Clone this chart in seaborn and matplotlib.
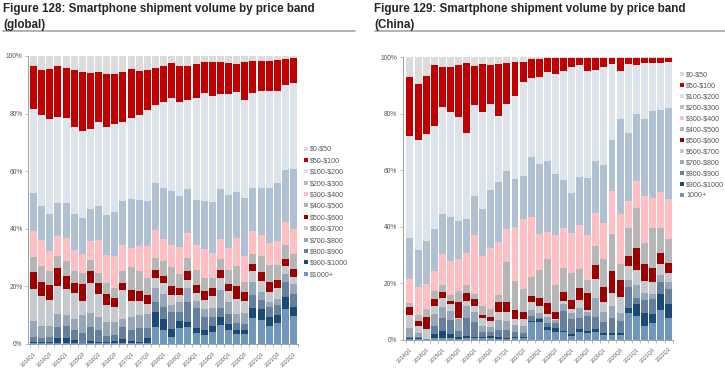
import numpy as np
import matplotlib
matplotlib.use("Agg")
import matplotlib.pyplot as plt
import seaborn as sns
from matplotlib.lines import Line2D

sns.set_style("white")
plt.rcParams['font.family'] = ['Liberation Sans', 'DejaVu Sans']

quarters = ["2014Q1", "2014Q2", "2014Q3", "2014Q4", "2015Q1", "2015Q2", "2015Q3", "2015Q4",
            "2016Q1", "2016Q2", "2016Q3", "2016Q4", "2017Q1", "2017Q2", "2017Q3", "2017Q4",
            "2018Q1", "2018Q2", "2018Q3", "2018Q4", "2019Q1", "2019Q2", "2019Q3", "2019Q4",
            "2020Q1", "2020Q2", "2020Q3", "2020Q4", "2021Q1", "2021Q2", "2021Q3", "2021Q4",
            "2022Q1"]

bands_global = ["\\$0-\\$50", "\\$50-\\$100", "\\$100-\\$200", "\\$200-\\$300", "\\$300-\\$400",
                "\\$400-\\$500", "\\$500-\\$600", "\\$600-\\$700", "\\$700-\\$800", "\\$800-\\$900",
                "\\$900-\\$1000", "\\$1000+"]
bands_china = bands_global[:-1] + ["1000+"]

band_colors = ["#dcdcdc", "#c00000", "#dde3ea", "#b0c1d4", "#ffbfc3", "#b6b6b6",
               "#9e0000", "#c6c9cd", "#97a6b8", "#64809e", "#1c4a76", "#7196bb"]

# cumulative top of each band, % of shipments (global), top band first
glob_0_50 = [100, 100, 100, 100, 100, 100, 100, 100, 100, 100, 100, 100, 100, 100, 100, 100, 100,
             100, 100, 100, 100, 100, 100, 100, 100, 100, 100, 100, 100, 100, 100, 100, 100]
glob_50_100 = [96.4, 95.3, 95.6, 96.7, 95.9, 95.1, 94.6, 94.1, 94.4, 93.9, 93.9, 94.5, 95.4, 94.9, 95.1, 95.9,
               96.6, 97.6, 96.7, 96.6, 97.1, 97.8, 97.9, 97.9, 97.5, 97.2, 97.9, 98.2, 98.4, 98.4, 98.5, 99.1, 99.2]
glob_100_200 = [81.5, 79.5, 78.2, 78.7, 78.5, 75.3, 73.9, 74.5, 77.0, 75.3, 76.4, 77.2, 78.5, 79.5, 81.1, 82.9,
                84.1, 85.4, 83.9, 84.6, 85.3, 87.1, 86.2, 86.8, 86.8, 87.4, 84.8, 87.1, 87.7, 87.7, 87.8, 89.8, 90.7]
glob_200_300 = [52.3, 47.9, 45.1, 49.1, 49.1, 45.1, 43.6, 47.0, 48.0, 44.8, 45.9, 49.7, 50.2, 50.0, 49.8, 55.8,
                54.1, 53.1, 51.4, 53.8, 50.0, 49.8, 49.4, 53.7, 51.7, 52.7, 50.6, 54.1, 54.3, 54.3, 56.0, 60.5, 60.8]
glob_300_400 = [39.3, 36.0, 32.3, 37.4, 36.9, 32.6, 31.4, 35.7, 36.0, 30.8, 30.5, 34.3, 33.5, 34.1, 34.0, 39.5,
                36.3, 34.5, 33.7, 38.4, 34.3, 33.0, 31.7, 36.4, 33.3, 36.7, 30.7, 39.2, 37.8, 35.2, 35.8, 42.4, 40.1]
glob_400_500 = [30.2, 27.1, 25.3, 30.6, 28.8, 25.3, 24.7, 29.1, 24.8, 21.2, 19.5, 25.3, 26.7, 25.3, 22.9, 29.7,
                28.8, 26.7, 24.2, 29.9, 25.8, 22.8, 22.9, 29.4, 25.6, 27.0, 21.7, 31.3, 30.5, 27.3, 27.3, 34.4, 31.4]
glob_500_600 = [25.0, 21.7, 20.6, 26.5, 23.5, 21.2, 20.9, 25.3, 21.3, 17.2, 15.9, 21.3, 18.6, 18.3, 17.1, 25.6,
                23.7, 20.0, 19.4, 25.3, 20.6, 18.3, 19.5, 25.6, 20.9, 20.0, 18.0, 27.8, 25.1, 21.5, 22.2, 29.5, 26.2]
glob_600_700 = [19.2, 16.6, 15.3, 20.3, 19.0, 17.7, 14.9, 21.3, 17.4, 13.6, 12.8, 18.6, 14.8, 14.9, 14.0, 22.9,
                21.2, 16.9, 17.1, 22.3, 17.8, 15.3, 16.6, 22.9, 18.4, 15.7, 14.9, 25.2, 21.9, 18.0, 19.4, 27.0, 23.3]
glob_700_800 = [8.1, 6.4, 6.2, 10.5, 9.9, 8.7, 10.1, 10.7, 9.3, 7.6, 7.8, 8.7, 9.3, 10.2, 10.5, 19.5,
                17.4, 13.7, 14.5, 19.4, 14.9, 12.2, 12.4, 18.6, 14.5, 10.5, 10.7, 21.5, 18.0, 14.5, 15.7, 24.4, 20.9]
glob_800_900 = [2.6, 2.1, 2.6, 6.0, 6.4, 4.7, 3.8, 5.8, 4.7, 2.9, 3.1, 5.8, 4.7, 5.5, 5.5, 14.5,
                12.8, 11.0, 11.0, 14.5, 12.4, 9.3, 9.3, 12.4, 10.5, 7.2, 7.0, 17.1, 15.3, 12.8, 13.7, 21.5, 17.2]
glob_900_1000 = [0.6, 0.7, 0.7, 2.1, 2.1, 1.4, 0.5, 1.0, 0.7, 0.7, 0.9, 1.7, 1.0, 0.8, 2.0, 11.0,
                 8.7, 5.2, 8.1, 7.8, 5.5, 4.7, 6.4, 9.3, 7.0, 4.7, 4.7, 12.4, 12.2, 9.3, 10.1, 16.3, 12.8]
glob_1000p = [0.2, 0.2, 0.2, 0.2, 0.2, 0.2, 0.2, 0.2, 0.2, 0.2, 0.2, 0.2, 0.2, 0.2, 0.2, 6.0,
              4.7, 2.3, 5.5, 5.8, 3.7, 3.1, 4.3, 6.7, 5.0, 3.3, 3.5, 9.1, 8.4, 6.2, 7.2, 12.1, 9.7]

# cumulative top of each band, % of shipments (China)
chn_0_50 = [100, 100, 100, 100, 100, 100, 100, 100, 100, 100, 100, 100, 100, 100, 100, 100, 100,
            100, 100, 100, 100, 100, 100, 100, 100, 100, 100, 100, 100, 100, 100, 100, 100]
chn_50_100 = [93.1, 90.6, 93.4, 97.2, 96.7, 96.7, 97.4, 98.1, 96.9, 97.8, 97.2, 97.5, 98.1, 98.2, 98.4, 99.3,
              99.5, 99.9, 99.9, 99.9, 99.9, 99.9, 99.9, 99.9, 99.9, 99.9, 99.9, 99.9, 99.9, 99.9, 99.9, 99.9, 99.9]
chn_100_200 = [72.0, 70.8, 72.9, 75.8, 82.4, 80.5, 78.7, 73.2, 83.1, 80.7, 83.6, 79.3, 83.4, 86.2, 91.3, 92.7,
               93.2, 94.7, 94.1, 95.2, 96.7, 97.1, 95.1, 95.5, 96.5, 97.6, 95.3, 97.6, 97.3, 98.1, 98.1, 98.1, 98.4]
chn_200_300 = [35.9, 31.8, 34.9, 39.1, 44.4, 43.6, 42.0, 42.8, 50.9, 46.3, 53.0, 56.0, 59.9, 56.8, 58.1, 64.8,
               62.2, 63.2, 58.5, 56.6, 51.8, 57.7, 57.3, 63.2, 62.0, 70.8, 78.1, 73.2, 79.8, 78.1, 80.9, 81.5, 82.1]
chn_300_400 = [21.4, 18.6, 19.7, 24.4, 30.3, 27.9, 28.6, 30.6, 37.2, 29.7, 32.6, 34.7, 39.2, 40.0, 42.8, 43.6,
               37.4, 38.0, 37.1, 39.7, 37.7, 40.5, 37.1, 44.7, 41.2, 52.7, 44.4, 49.1, 56.3, 51.0, 50.3, 52.4, 49.9]
chn_400_500 = [12.9, 8.6, 10.7, 17.3, 19.2, 15.8, 17.4, 19.5, 16.2, 12.0, 10.9, 16.0, 27.4, 20.8, 17.9, 22.3,
               24.7, 28.6, 19.4, 25.3, 23.5, 24.9, 21.1, 33.2, 28.6, 37.4, 26.7, 39.4, 46.5, 34.1, 39.4, 39.4, 35.5]
chn_500_600 = [11.7, 6.6, 8.0, 14.3, 16.8, 13.8, 13.3, 16.7, 14.4, 8.9, 8.1, 13.4, 13.4, 10.5, 9.9, 15.6,
               14.9, 12.9, 9.9, 17.0, 14.0, 18.2, 16.4, 26.4, 18.8, 24.3, 21.1, 29.6, 32.3, 26.7, 25.5, 30.6, 27.3]
chn_600_700 = [8.8, 5.0, 3.8, 12.1, 14.8, 12.6, 7.7, 13.6, 11.9, 7.6, 6.6, 9.8, 9.7, 7.3, 7.2, 13.2,
               12.0, 9.0, 7.3, 13.8, 10.7, 14.0, 10.5, 21.4, 13.5, 16.6, 15.2, 26.2, 24.7, 20.8, 20.3, 26.8, 23.5]
chn_700_800 = [4.0, 2.5, 0.4, 9.2, 11.5, 10.0, 7.5, 11.8, 9.7, 4.8, 4.6, 6.8, 6.5, 5.3, 4.7, 10.6,
               9.3, 8.1, 7.0, 12.6, 9.3, 11.1, 9.7, 14.6, 9.7, 12.0, 9.3, 21.1, 19.4, 16.4, 16.2, 22.9, 20.3]
chn_800_900 = [1.1, 1.1, 0.3, 5.0, 7.6, 7.0, 3.0, 7.6, 6.1, 2.6, 2.8, 3.6, 3.6, 2.8, 2.4, 8.3,
               7.8, 6.0, 5.8, 10.2, 7.2, 7.6, 8.5, 8.1, 6.1, 7.8, 6.7, 18.8, 14.9, 14.1, 14.4, 20.5, 17.8]
chn_900_1000 = [0.7, 0.7, 0.2, 2.0, 3.2, 1.9, 1.0, 1.3, 1.1, 1.1, 1.3, 0.8, 0.7, 1.1, 1.1, 6.6,
                7.2, 4.6, 4.3, 3.1, 1.9, 3.8, 3.1, 3.8, 2.2, 2.5, 2.5, 11.3, 12.6, 9.3, 9.1, 16.1, 12.5]
chn_1000p = [0.35, 0.3, 0.1, 0.5, 0.7, 0.6, 0.4, 0.6, 0.5, 0.5, 0.6, 0.4, 0.4, 0.5, 0.5, 6.3,
             6.1, 3.4, 2.8, 2.8, 1.3, 2.6, 2.2, 2.6, 1.7, 1.7, 1.7, 9.3, 8.5, 5.0, 5.8, 10.5, 7.6]

global_cum = [glob_0_50, glob_50_100, glob_100_200, glob_200_300, glob_300_400, glob_400_500,
              glob_500_600, glob_600_700, glob_700_800, glob_800_900, glob_900_1000, glob_1000p]
china_cum = [chn_0_50, chn_50_100, chn_100_200, chn_200_300, chn_300_400, chn_400_500,
             chn_500_600, chn_600_700, chn_700_800, chn_800_900, chn_900_1000, chn_1000p]

W, H = 725, 369
fig = plt.figure(figsize=(W / 100, H / 100), dpi=100)
ax1 = fig.add_axes([28.3 / W, 25 / H, 269.7 / W, 288 / H])
ax2 = fig.add_axes([402.7 / W, 29.3 / H, 270.3 / W, 282.4 / H])

grey_txt = "#555555"


def draw_panel(ax, cum_list, xmin):
    # stacked bars: draw the cumulative totals from the top band down, each over the last
    for cum, col in zip(cum_list, band_colors):
        sns.barplot(x=quarters, y=cum, color=col, saturation=1, width=0.86,
                    linewidth=0, ax=ax)
    ax.set_xlim(xmin, 32.55)
    ax.set_ylim(0, 100)
    ax.set_xticks(range(0, 33, 2))
    ax.set_xticklabels(quarters[::2], rotation=45, ha="right", va="top", rotation_mode="anchor",
                       fontsize=3.8, color=grey_txt)
    ax.set_xticks(np.arange(-0.5, 33, 1), minor=True)
    ax.set_yticks([0, 20, 40, 60, 80, 100])
    ax.set_yticklabels(["0%", "20%", "40%", "60%", "80%", "100%"], fontsize=4.8, color=grey_txt)
    ax.tick_params(axis="x", which="major", length=0, pad=5)
    ax.tick_params(axis="x", which="minor", length=2, width=0.5, color="#a0a0a0", bottom=True)
    ax.tick_params(axis="y", length=2, width=0.5, color="#a0a0a0", pad=2, left=True)
    ax.set_xlabel("")
    ax.set_ylabel("")
    for s in ["top", "right"]:
        ax.spines[s].set_visible(False)
    for s in ["left", "bottom"]:
        ax.spines[s].set_color("#a0a0a0")
        ax.spines[s].set_linewidth(0.7)


draw_panel(ax1, global_cum, -0.65)
draw_panel(ax2, china_cum, -0.9)

# titles with grey rule underneath
fig.text(3 / W, 1 - 3 / H, "Figure 128: Smartphone shipment volume by price band\n(global)",
         fontsize=8.4, fontweight="bold", va="top", ha="left", linespacing=1.4)
fig.text(374.5 / W, 1 - 3 / H, "Figure 129: Smartphone shipment volume by price band\n(China)",
         fontsize=8.4, fontweight="bold", va="top", ha="left", linespacing=1.4)
fig.add_artist(Line2D([3 / W, 355 / W], [1 - 31 / H] * 2, color="#a6a6a6", lw=1.2))
fig.add_artist(Line2D([374.5 / W, 1.0], [1 - 31 / H] * 2, color="#a6a6a6", lw=1.2))


def make_handles():
    return [Line2D([], [], marker="s", linestyle="", markersize=2.8, markeredgewidth=0,
                   color=c) for c in band_colors]


fig.legend(make_handles(), bands_global, loc="upper left", bbox_to_anchor=(304 / W, 1 - 146 / H),
           frameon=False, fontsize=5.1, labelcolor=grey_txt, handlelength=0.5, handletextpad=0.4,
           labelspacing=0.62, borderpad=0, borderaxespad=0)
fig.legend(make_handles(), bands_china, loc="upper left", bbox_to_anchor=(680 / W, 1 - 71.5 / H),
           frameon=False, fontsize=5.1, labelcolor=grey_txt, handlelength=0.5, handletextpad=0.4,
           labelspacing=0.56, borderpad=0, borderaxespad=0)

fig.savefig("out.png", dpi=100)
